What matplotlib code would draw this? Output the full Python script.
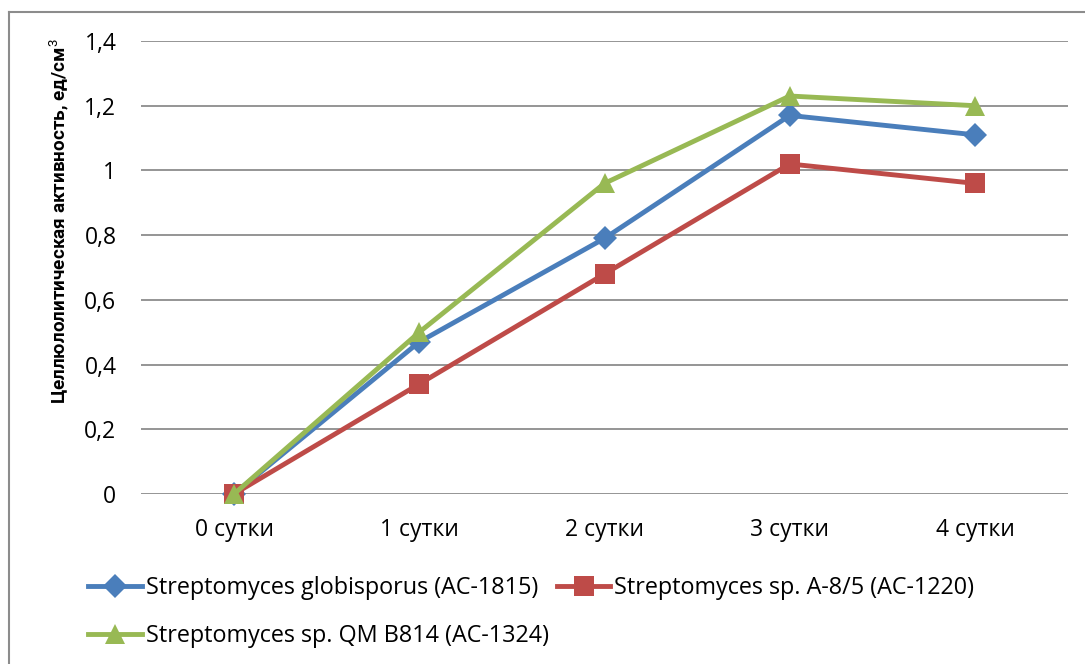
import matplotlib
matplotlib.use("Agg")
import matplotlib.pyplot as plt
from matplotlib.lines import Line2D

# Cellulolytic activity by day for three Streptomyces strains
days = ["0 сутки", "1 сутки", "2 сутки", "3 сутки", "4 сутки"]
globisporus = [0, 0.47, 0.79, 1.17, 1.11]
sp_a85 = [0, 0.34, 0.68, 1.02, 0.96]
sp_qm = [0, 0.50, 0.96, 1.23, 1.20]
series_names = [
    "Streptomyces globisporus (AC-1815)",
    "Streptomyces sp. A-8/5 (AC-1220)",
    "Streptomyces sp. QM B814 (AC-1324)",
]
y_ticks = [0, 0.2, 0.4, 0.6, 0.8, 1.0, 1.2, 1.4]
y_tick_labels = ["0", "0,2", "0,4", "0,6", "0,8", "1", "1,2", "1,4"]
y_label = "Целлюлолитическая активность, ед/см$^3$"

plt.rcParams["font.family"] = ["Open Sans", "DejaVu Sans"]
plt.rcParams["mathtext.fontset"] = "custom"
plt.rcParams["mathtext.rm"] = "Roboto"
plt.rcParams["mathtext.bf"] = "Roboto:bold"

W, H = 1085, 664
fig = plt.figure(figsize=(W / 100, H / 100), dpi=100)

ax = fig.add_axes([141.4 / W, 1 - 494 / H, (1067.6 - 141.4) / W, (494 - 41) / H])
x = list(range(len(days)))

styles = [
    (globisporus, "#4a7ebb", "D", 12.5),
    (sp_a85, "#be4b48", "s", 14),
    (sp_qm, "#98b954", "^", 15),
]
handles = []
for (vals, color, marker, ms), name in zip(styles, series_names):
    (h,) = ax.plot(x, vals, color=color, lw=3.5, marker=marker, ms=ms,
                   markeredgewidth=0, label=name, zorder=3, clip_on=False)
    handles.append(h)

ax.set_xlim(-0.5, 4.5)
ax.set_ylim(0, 1.4)
ax.set_yticks(y_ticks)
ax.set_yticklabels(y_tick_labels)
ax.set_xticks(x)
ax.set_xticklabels(days)
ax.tick_params(axis="both", length=0, labelsize=16.5, colors="black")
ax.tick_params(axis="y", pad=18)
ax.tick_params(axis="x", pad=17)
ax.grid(axis="y", color="#8c8c8c", lw=1.3)
ax.set_axisbelow(True)
for s in ax.spines.values():
    s.set_visible(False)

fig.text(59 / W, 1 - 221 / H, y_label, rotation=90, ha="center", va="center",
         fontsize=13.6, fontweight="bold", family=["Roboto", "DejaVu Sans"])

# Legend laid out row by row
order = [handles[0], handles[2], handles[1]]
labels = [series_names[0], series_names[2], series_names[1]]
fig.legend(order, labels, ncol=2, loc="upper left",
           bbox_to_anchor=(88 / W, 1 - 576.5 / H), frameon=False,
           fontsize=16.8, handlelength=2.3, handletextpad=0.17,
           columnspacing=0.35, labelspacing=1.02, borderaxespad=0, borderpad=0)

# Outer chart frame
fig.add_artist(Line2D([9 / W, 9 / W], [0, 1 - 12 / H], transform=fig.transFigure,
                      color="#8c8c8c", lw=1.5))
fig.add_artist(Line2D([9 / W, 1], [1 - 12 / H, 1 - 12 / H], transform=fig.transFigure,
                      color="#8c8c8c", lw=1.5))

fig.savefig("out.png", dpi=100, facecolor="white")
